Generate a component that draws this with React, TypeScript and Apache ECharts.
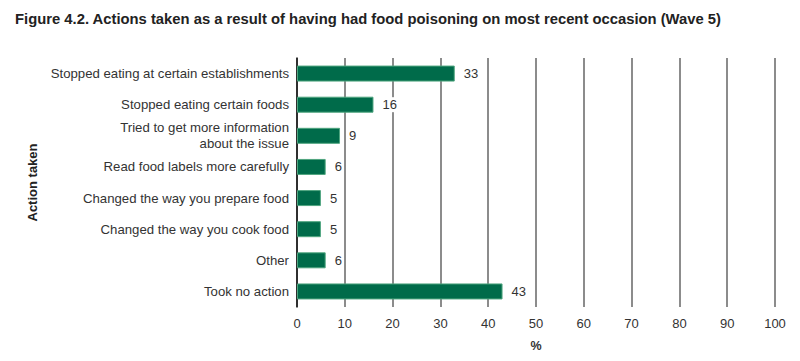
import React, { useEffect, useRef } from "react";
import * as echarts from "echarts";

const categories = [
  "Stopped eating at certain establishments",
  "Stopped eating certain foods",
  "Tried to get more information\nabout the issue",
  "Read food labels more carefully",
  "Changed the way you prepare food",
  "Changed the way you cook food",
  "Other",
  "Took no action",
];
const values = [33, 16, 9, 6, 5, 5, 6, 43];
const xTicks = [0, 10, 20, 30, 40, 50, 60, 70, 80, 90, 100];

const FONT = "Liberation Sans, Arial, sans-serif";

export default function App() {
  const ref = useRef<HTMLDivElement>(null);
  useEffect(() => {
    const chart = echarts.init(ref.current!, null, { renderer: "svg" });
    chart.setOption({
      animation: false,
      title: {
        text: "Figure 4.2. Actions taken as a result of having had food poisoning on most recent occasion (Wave 5)",
        left: 7,
        top: 3,
        padding: 0,
        textStyle: { fontFamily: FONT, fontSize: 14.8, fontWeight: "bold", color: "#222" },
      },
      grid: { left: 289, right: 17, top: 50, bottom: 46, outerBoundsMode: "none", containLabel: false },
      xAxis: {
        type: "value",
        min: xTicks[0],
        max: xTicks[xTicks.length - 1],
        interval: 10,
        name: "%",
        nameLocation: "middle",
        nameGap: 32,
        nameTextStyle: { fontFamily: FONT, fontSize: 12.5, fontWeight: "bold", color: "#333", lineHeight: 13 },
        axisLine: { show: false },
        axisTick: { show: false },
        axisLabel: { fontFamily: FONT, fontSize: 13, color: "#333", margin: 10 },
        splitLine: { show: true, lineStyle: { color: "#666", width: 1.5 } },
      },
      yAxis: {
        type: "category",
        data: categories,
        inverse: true,
        name: "Action taken",
        nameLocation: "middle",
        nameGap: 258,
        nameRotate: 90,
        nameTextStyle: { fontFamily: FONT, fontSize: 13, fontWeight: "bold", color: "#222" },
        axisLine: { show: true, lineStyle: { color: "#111", width: 1.5 } },
        axisTick: { show: false },
        axisLabel: { fontFamily: FONT, fontSize: 13.2, color: "#333", margin: 8, lineHeight: 16 },
        splitLine: { show: false },
      },
      series: [
        {
          type: "bar",
          data: values,
          barWidth: 16,
          itemStyle: { color: "#006b4a", borderColor: "#4fa57f", borderWidth: 1 },
          label: {
            show: true,
            position: "right",
            distance: 7,
            fontFamily: FONT,
            fontSize: 13,
            color: "#333",
            backgroundColor: "#fff",
            padding: [1, 2],
          },
        },
      ],
    });
    return () => chart.dispose();
  }, []);
  return <div ref={ref} style={{ width: 784, height: 345 }} />;
}
